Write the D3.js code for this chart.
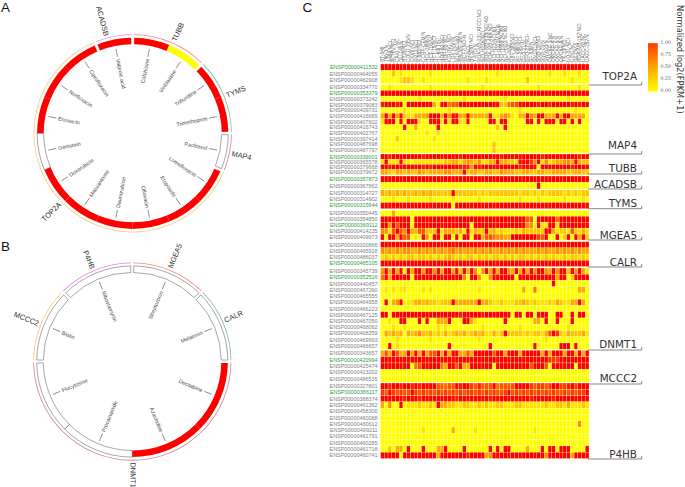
<!DOCTYPE html>
<html><head><meta charset="utf-8">
<style>html,body{margin:0;padding:0;background:#fff}svg{display:block}</style>
<script src="https://cdn.jsdelivr.net/npm/d3@7"></script></head>
<body><div id="c"></div>
<script>
// ---------- Data: circular panels ----------
const drugsA = ["Colchicine","Vinblastine","Trifluridine","Trimethoprim","Paclitaxel","Lomefloxacin","Etoposide","Ofloxacin","Daunorubicin","Mitoxantrone","Doxorubicin","Genistein","Enoxacin","Norfloxacin","Ciprofloxacin","Valproic acid"];
const geneOfDrugA = ["TUBB","TUBB","TYMS","TYMS","MAP4","TOP2A","TOP2A","TOP2A","TOP2A","TOP2A","TOP2A","TOP2A","TOP2A","TOP2A","TOP2A","ACADSB"];
const statusA = ["high","mid","high","high","none","high","high","high","high","high","high","none","high","high","high","high"];
const drugsB = ["Streptozocin","Melatonin","Decitabine","Azacitidine","Procainamide","Flucytosine","Biotin","Ribostamycin"];
const geneOfDrugB = ["MGEA5","CALR","DNMT1","DNMT1","DNMT1","DNMT1","MCCC2","P4HB"];
const statusB = ["none","none","high","high","none","none","none","none"];

// ---------- Data: heat map ----------
const sampleNames = ["BT-549","786-0/N","A498/NCI","ACHN/NCI","CAKI-1/NC","DU-145/N","HT29/NCI","COLO 205/N","EKVX/NCI","KM12/NCI","K-562/NCI",
"CCRF-CEM/N","HCC-2998/N","HCT-116/NC","HCT-15/NCI","HL-60(TB)/","HOP-62/NCI","HOP-92/NCI","IGROV1/NCI","LOX IMVI/N","M14/NCI-60","MALME-3M/N","MCF7/NCI-6",
"SR/NCI","Hs 578T/NCI","T-47D/N","MDA-MB-231/ATCC/NCI","NCI-H226/NCI","MDA-MB-435/NCI-60",
"MDA-MB-468/NCI","NCI-H23/NCI-60","NCI-H322M/NCI6","NCI-H460/NCI60","NCI-H522/NCI60","PC-3/NC",
"RXF 393/NCI","SF-268/NCI-","SF-295/NCI-","EFO-21/N","EFO-27/NCI-","SF-539/N","SN12C/NCI-","SNB-19/NCI","SNB-75/N","SW-620/N","OVCAR-3/NC",
"OVCAR-4/N","OVCAR-5/N","OVCAR-8/N","TK-10/NCI","UO-31/NCI","U251/NC","SK-OV-3","MDA-MB-157/NCI","UACC-62/NC","UACC-257/N"];
const groupGenes = ["TOP2A","MAP4","TUBB","ACADSB","TYMS","MGEA5","CALR","DNMT1","MCCC2","P4HB"];
const greenIds = ["00000411532","00000353379","00000339001","00000367873","00000315644","00000369112","00000465105","00000352516","00000420994","00000386117"];
const idsTOP2A = ["00000411532","00000464055","00000462908"];
const idsMAP4 = ["00000334770","00000353379","00000373242","00000379083","00000409731","00000416689","00000407602","00000416743","00000402767","00000397414","00000487698","00000487797"];
const idsTUBB = ["00000339001","00000365578","00000379668","00000379672"];
const idsACADSB = ["00000367873","00000367862"];
const idsTYMS = ["00000314727","00000314902","00000315644"];
const idsMGEA5 = ["00000350445","00000354850","00000369112","00000414235","00000409973"];
const idsCALR = ["00000320866","00000465918","00000486037","00000465105"];
const idsDNMT1 = ["00000345739","00000352516","00000440457","00000467260","00000465555","00000464958","00000466223","00000467125","00000467050","00000468062","00000468359","00000469993","00000466657"];
const idsMCCC2 = ["00000343657","00000420994","00000425474","00000423202","00000486535"];
const idsP4HB = ["00000327801","00000386117","00000388374","00000461362","00000458300","00000460088","00000460612","00000499211","00000461791","00000460285","00000461718","00000460741"];

// each row: 56 expression levels, digit/9 = normalized value
const rowsTOP2A = [
"99999999 99999999 99999999 99999999 99999999 99999999 99999999",
"00020100 00000100 00000000 00000001 00000000 00000100 01000100",
"00000122 10010000 00000001 00001000 00000002 00000000 00010000"];
const rowsMAP4 = [
"00100000 00000100 00000000 00010000 00000000 00100000 00000100",
"99999999 99999999 99999999 99999999 99999999 99999999 99999999",
"00000000 00100000 00000010 00000000 01000000 00000000 00100000",
"89998909 99999930 99566999 99999999 22566999 99899899 99989899",
"00000010 00000000 00100000 00000000 00000100 00000000 00001000",
"39393921 13334999 39499339 33333911 34310339 43993339 39933330",
"19990909 99100999 19199119 00000990 99000009 90909990 99090900",
"00000090 03000009 00000000 00000002 09000000 00000000 00000000",
"00000000 00001001 00000000 00000000 00000000 00000000 00000000",
"00002000 00000010 00000000 00000000 00000000 00000000 00000000",
"00000000 00000000 00000000 00000020 00000000 00000000 00000000",
"00000000 00000000 00000000 00000020 00000000 00000000 00000000"];
const rowsTUBB = [
"99899999 99989999 99999899 99999999 89999999 99989999 99999899",
"19111911 01111111 12233134 32411339 33221999 74914123 34439322",
"99899999 99989899 99999888 49899999 99999899 99099999 99989999",
"33213323 22432333 34433392 33223322 43332233 22332233 33223322"];
const rowsACADSB = [
"99999999 99999999 99999999 99999999 99999999 99999999 99999999",
"00000000 00000000 00000000 00000000 00000000 00900000 00000000"];
const rowsTYMS = [
"32323232 23232322 22292222 22121222 22222122 12121222 21212122",
"00010001 00000100 00010000 00100000 00000100 00100000 01000010",
"99999999 99999999 99909999 99999999 99999999 99999999 99999999"];
const rowsMGEA5 = [
"00030000 00000000 00000000 00000000 00000000 00000000 00000000",
"99999999 09999999 99999999 99999999 99999996 60999995 99999999",
"99496999 09999999 99999999 09999999 99999994 40911991 99999999",
"44169649 33662229 13332319 13229231 21112132 22229931 22162131",
"90993966 01094099 09909099 09936654 43399999 99769009 02909392"];
const rowsCALR = [
"99999999 99999999 99999999 99999999 99999999 99999999 99999999",
"43434344 33434343 43453434 34343433 43434343 33434334 34343433",
"12121212 21221212 12321212 21212122 12121221 21212121 12122121",
"99999999 99999999 99999999 99999999 99999999 99999999 99999999"];
const rowsDNMT1 = [
"49393909 39939949 39939293 94049393 99439393 94994394 99294931",
"59399999 09999999 99999940 99400499 99990999 99999993 99029999",
"00000000 00000000 00000000 00000000 00000000 00000090 00000000",
"01010110 00010100 00000000 00100000 00000030 05000000 00000330",
"00000000 00000000 00000000 00000000 00000000 00000000 00000000",
"09034901 13323221 22293333 33933211 21112232 12111213 21133930",
"00000000 00000000 00000000 00000000 00000000 00000000 00000000",
"99099999 99999999 99999899 99989999 99909909 90999009 90090990",
"00100990 00909003 33900099 31000000 09000000 03309009 00090000",
"00010010 00000001 01000000 00010000 00000100 00000000 00100000",
"03232303 23422312 13123231 23231131 29222212 12213697 21322231",
"00001000 00000100 00000000 00100000 00000000 00001000 00000000",
"00901000 00000000 00900000 00000900 00000000 09000000 99909000"];
const rowsMCCC2 = [
"36396339 39393669 39399336 39999969 93999399 99939399 93993939",
"99999999 99999999 99999999 99999999 99999999 99999777 99999999",
"99999999 05699999 53996933 99999909 99999999 69996099 99990999",
"00000000 00000000 00000000 00000000 00000000 00000000 00000000",
"00000000 00000000 00000000 00000000 00000000 00000000 00000000"];
const rowsP4HB = [
"99899899 89899996 65669899 76866695 66669999 76776799 77897999",
"76976766 97676767 67676767 76767676 67967676 76767676 67676779",
"99999989 99899999 99998999 99999899 99999999 89999989 99999999",
"30400901 11211219 33221122 11212112 21112211 11112112 21311121",
"00000000 00000000 00000000 00000000 00000000 00000000 00000000",
"00000000 00000000 00000000 00000000 00000000 00000000 00000000",
"00000000 00000000 00000000 00000000 00000000 00000000 00000400",
"00000000 00010000 00030000 01000000 00000000 01000000 00000000",
"00000000 00000000 00000000 00000000 00000000 00000000 00000000",
"00000000 00000000 00000000 00000000 00000000 00000000 00000000",
"00203309 00090003 39000090 00000909 09900003 00090990 99900009",
"99999099 99999993 99999998 99993499 99999999 99994999 99939999"];
const legendTicks = [1,0.75,0.5,0.25,0];

// ---------- Layout ----------
const W=685,H=487;
const svg=d3.select("#c").append("svg").attr("width",W).attr("height",H);
const geneColor=d3.scaleOrdinal().domain(["TUBB","TYMS","MAP4","TOP2A","ACADSB","MGEA5","CALR","DNMT1","MCCC2","P4HB"])
  .range(["#f8847c","#86ba9e","#c9829f","#ffc878","#f07cf0","#f8847c","#86ba9e","#c9829f","#ffc878","#f07cf0"]);
const statusFill={high:"#ff0000",mid:"#ffff00",none:"#ffffff"};
const ang=d3.scaleLinear().domain([0,360]).range([0,2*Math.PI]);

function circos(cx,cy,drugs,genes,status,geneR){
  const g=svg.append("g").attr("transform",`translate(${cx},${cy})`);
  const step=d3.scaleBand().domain(drugs).range([0,360]);
  const arc=d3.arc().innerRadius(89).outerRadius(95.6);
  const isStart=(i)=>i===0||genes[i-1]!==genes[i];
  const isEnd=(i)=>i===drugs.length-1||genes[i+1]!==genes[i];
  const groups=d3.groups(drugs.map((d,i)=>i),i=>genes[i]);
  drugs.map((d,i)=>i).sort((a,b)=>(status[a]==="none"?0:1)-(status[b]==="none"?0:1)).forEach(i=>{
    const a0=step(drugs[i])+(isStart(i)?0.9:0), a1=step(drugs[i])+step.bandwidth()-(isEnd(i)?0.9:0);
    g.append("path").attr("d",arc({startAngle:ang(a0),endAngle:ang(a1)}))
      .attr("fill",statusFill[status[i]])
      .attr("stroke",status[i]==="none"?"#5e5e5e":"none").attr("stroke-width",0.55);
  });
  const ring=d3.arc().innerRadius(98.3).outerRadius(99.1);
  groups.forEach(([gene,idx])=>{
    const a0=step(drugs[idx[0]]), a1=step(drugs[idx[idx.length-1]])+step.bandwidth();
    g.append("path").attr("d",ring({startAngle:ang(a0+0.7),endAngle:ang(a1-0.7)})).attr("fill",geneColor(gene));
    const m=geneR[gene]!==undefined?geneR[gene]:(a0+a1)/2;
    const right=m<=180;
    g.append("text").attr("transform",`rotate(${right?m-90:m+90}) translate(${right?101:-101},0)`)
      .attr("text-anchor",right?"start":"end").attr("dy","0.35em")
      .attr("font-family","Liberation Sans").attr("font-size",7.4).attr("fill","#333").text(gene);
  });
  drugs.forEach(d=>{
    const m=step(d)+step.bandwidth()/2, right=m<=180;
    const gg=g.append("g").attr("transform",`rotate(${m-90})`);
    gg.append("line").attr("x1",78).attr("x2",86).attr("stroke","#444").attr("stroke-width",0.55);
    g.append("text").attr("transform",`rotate(${right?m-90:m+90}) translate(${right?76:-76},0)`)
      .attr("text-anchor",right?"end":"start").attr("dy","0.35em")
      .attr("font-family","Liberation Sans").attr("font-size",5.4).attr("fill","#444").text(d);
  });
}
circos(132.7,133.3,drugsA,geneOfDrugA,statusA,{TUBB:24,TYMS:68,MAP4:101.5,TOP2A:226,ACADSB:345});
circos(132.3,361.5,drugsB,geneOfDrugB,statusB,{MGEA5:22,CALR:66,DNMT1:179.6,MCCC2:292,P4HB:337});

[["A",1,12.4],["B",1,250.7],["C",302.5,12.4]].forEach(([t,x,y])=>
  svg.append("text").attr("x",x).attr("y",y).attr("font-family","Liberation Sans").attr("font-size",13.4).attr("fill","#111").text(t));

// ---------- Heat map ----------
const allRows=[rowsTOP2A,rowsMAP4,rowsTUBB,rowsACADSB,rowsTYMS,rowsMGEA5,rowsCALR,rowsDNMT1,rowsMCCC2,rowsP4HB];
const allIds=[idsTOP2A,idsMAP4,idsTUBB,idsACADSB,idsTYMS,idsMGEA5,idsCALR,idsDNMT1,idsMCCC2,idsP4HB];
const groupY=[[64,83.4],[84.7,153],[154,174.8],[176,189],[190,208.7],[210.3,240],[241.7,266.5],[268,349.2],[350.3,382],[383,458.5]];
const bracketY=[85,154,174,189,208.7,240,267,350,384,459];
const labelY=[80.3,148.7,172,188,207,239,265.7,347.7,381.7,457.7];
const x=d3.scaleBand().domain(sampleNames).range([380.6,589]);
const color=d3.scaleLinear().domain([0,1]).range(["#ffff00","#ff0000"]);
const hm=svg.append("g");
allRows.forEach((rows,gi)=>{
  const y=d3.scaleBand().domain(allIds[gi]).range(groupY[gi]);
  rows.forEach((r,ri)=>{
    const vals=r.replace(/ /g,"").split("").map(c=>+c/9);
    hm.append("g").selectAll("rect").data(vals).join("rect")
      .attr("x",(d,i)=>x(sampleNames[i])).attr("y",y(allIds[gi][ri]))
      .attr("width",x.bandwidth()).attr("height",y.bandwidth())
      .attr("fill",d=>color(d)).attr("stroke","#ffffb0").attr("stroke-width",0.25);
    const id=allIds[gi][ri];
    hm.append("text").attr("x",377.6).attr("y",y(id)+y.bandwidth()/2).attr("dy","0.35em")
      .attr("text-anchor","end").attr("font-family","Liberation Sans").attr("font-size",5.45)
      .attr("fill",greenIds.includes(id)?"#2f9e3a":"#808080").text("ENSP"+id);
  });
  hm.append("path").attr("d",`M588,${bracketY[gi]}H641.7V${bracketY[gi]-3}`).attr("fill","none").attr("stroke","#555").attr("stroke-width",0.7);
  hm.append("text").attr("x",637).attr("y",labelY[gi]).attr("text-anchor","end")
    .attr("font-family","DejaVu Sans").attr("font-size",10.4).attr("fill","#333").text(groupGenes[gi]);
});
// column labels and ticks
const colG=svg.append("g");
sampleNames.forEach(n=>{
  const cx=x(n)+x.bandwidth()/2;
  colG.append("line").attr("x1",cx).attr("x2",cx).attr("y1",62.5).attr("y2",64).attr("stroke","#666").attr("stroke-width",0.4);
  colG.append("text").attr("transform",`translate(${cx},62) rotate(-90)`).attr("dy","0.35em")
    .attr("font-family","Liberation Sans").attr("font-size",4.8).attr("fill","#666").text(n);
});
// colour legend
const defs=svg.append("defs");
const lg=defs.append("linearGradient").attr("id","lg").attr("x1",0).attr("x2",0).attr("y1",1).attr("y2",0);
lg.append("stop").attr("offset","0%").attr("stop-color",color(0));
lg.append("stop").attr("offset","50%").attr("stop-color","#ffa500");
lg.append("stop").attr("offset","100%").attr("stop-color","#ff3c00");
const ly=d3.scaleLinear().domain([0,1]).range([90.3,42.6]);
svg.append("rect").attr("x",648).attr("y",43.2).attr("width",9.8).attr("height",48.3).attr("fill","url(#lg)");
svg.append("g").selectAll("text").data(legendTicks).join("text")
  .attr("x",660.6).attr("y",d=>ly(d)).attr("dy","0.35em")
  .attr("font-family","DejaVu Serif").attr("font-size",4.7).attr("fill","#555").text(d=>d3.format(".2f")(d));
svg.append("text").attr("transform","translate(677,5) rotate(90)").attr("font-family","DejaVu Sans")
  .attr("font-size",8.3).attr("fill","#333").text("Normalized log2(FPKM+1)");
</script></body></html>
